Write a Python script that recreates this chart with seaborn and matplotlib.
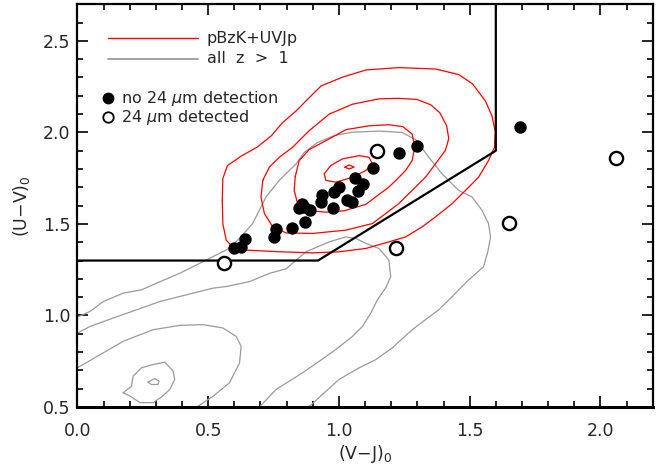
import matplotlib
matplotlib.use("Agg")
import matplotlib.pyplot as plt
from matplotlib.ticker import MultipleLocator
import seaborn as sns

# galaxies with no 24 micron detection
vj_no24 = [1.692, 1.299, 1.229, 1.130, 1.062, 1.092, 1.072, 1.001, 0.982, 0.937, 0.931,
           1.032, 1.051, 0.979, 0.859, 0.867, 0.848, 0.889, 0.871, 0.820, 0.760, 0.750,
           0.639, 0.626, 0.598]
uv_no24 = [2.027, 1.927, 1.888, 1.807, 1.749, 1.718, 1.682, 1.700, 1.676, 1.660, 1.618,
           1.633, 1.622, 1.585, 1.609, 1.594, 1.587, 1.576, 1.509, 1.478, 1.471, 1.427,
           1.418, 1.376, 1.367]

# 24 micron detected
vj_24 = [1.146, 1.219, 0.559, 1.651, 2.061]
uv_24 = [1.896, 1.369, 1.285, 1.505, 1.858]

# UVJ quiescent box
box_vj = [0.0, 0.92, 1.6, 1.6]
box_uv = [1.3, 1.3, 1.9, 2.8]

# pBzK+UVJp density contours (traced)
red1_vj = [0.554, 0.556, 0.574, 0.627, 0.688, 0.742, 0.784, 0.837, 0.886, 0.932, 1.016, 1.104,
           1.229, 1.370, 1.458, 1.511, 1.560, 1.585, 1.598, 1.595, 1.572, 1.534, 1.484, 1.433,
           1.369, 1.318, 1.255, 1.191, 1.103, 1.001, 0.899, 0.772, 0.645, 0.594, 0.569, 0.556, 0.554]
red1_uv = [1.629, 1.748, 1.819, 1.871, 1.920, 1.982, 2.053, 2.118, 2.189, 2.254, 2.303, 2.341,
           2.354, 2.346, 2.316, 2.265, 2.172, 2.091, 2.004, 1.919, 1.846, 1.755, 1.683, 1.611,
           1.538, 1.484, 1.429, 1.402, 1.366, 1.348, 1.342, 1.348, 1.357, 1.375, 1.411, 1.502, 1.629]
red2_vj = [0.709, 0.734, 0.772, 0.823, 0.886, 0.963, 1.052, 1.153, 1.229, 1.298, 1.351, 1.386,
           1.412, 1.420, 1.407, 1.369, 1.331, 1.280, 1.229, 1.179, 1.128, 1.026, 0.899, 0.798,
           0.747, 0.715, 0.702, 0.709]
red2_uv = [1.738, 1.810, 1.864, 1.919, 2.009, 2.100, 2.154, 2.183, 2.186, 2.180, 2.151, 2.107,
           2.036, 1.966, 1.901, 1.828, 1.755, 1.683, 1.611, 1.557, 1.502, 1.466, 1.448, 1.451,
           1.484, 1.557, 1.647, 1.738]
red3_vj = [0.833, 0.848, 0.886, 0.944, 1.027, 1.115, 1.191, 1.245, 1.280, 1.290, 1.280, 1.255,
           1.229, 1.191, 1.153, 1.103, 1.020, 0.950, 0.874, 0.842, 0.829, 0.833]
red3_uv = [1.759, 1.846, 1.906, 1.950, 2.015, 2.036, 2.042, 2.031, 1.991, 1.922, 1.846, 1.792,
           1.754, 1.701, 1.661, 1.607, 1.572, 1.564, 1.575, 1.611, 1.683, 1.759]
red4_vj = [0.944, 0.950, 0.988, 1.052, 1.103, 1.128, 1.115, 1.077, 1.013, 0.969, 0.944]
red4_uv = [1.774, 1.738, 1.728, 1.755, 1.792, 1.828, 1.864, 1.873, 1.855, 1.819, 1.774]
red5_vj = [1.023, 1.039, 1.058, 1.039, 1.023]
red5_uv = [1.810, 1.822, 1.811, 1.800, 1.810]

# all z > 1 density contours (traced)
gray1_vj = [0.0, 0.048, 0.099, 0.175, 0.245, 0.302, 0.391, 0.455, 0.505, 0.543, 0.582, 0.620,
            0.670, 0.696, 0.721, 0.772, 0.836, 0.867, 0.917, 0.982, 1.050, 1.153, 1.241, 1.294,
            1.344, 1.394, 1.458, 1.509, 1.547, 1.572, 1.580, 1.569, 1.553, 1.496, 1.433, 1.382,
            1.331, 1.280, 1.204, 1.141, 1.077, 1.001, 0.937, 0.886, 0.880]
gray1_uv = [0.991, 1.022, 1.076, 1.122, 1.140, 1.176, 1.230, 1.276, 1.312, 1.339, 1.368, 1.422,
            1.502, 1.575, 1.647, 1.738, 1.828, 1.890, 1.944, 1.982, 2.001, 2.007, 2.000, 1.960,
            1.864, 1.774, 1.683, 1.647, 1.575, 1.502, 1.428, 1.346, 1.266, 1.194, 1.103, 1.031,
            0.977, 0.922, 0.823, 0.759, 0.714, 0.651, 0.569, 0.502, 0.490]
gray2_vj = [0.0, 0.048, 0.137, 0.226, 0.315, 0.417, 0.518, 0.569, 0.658, 0.734, 0.798, 0.874,
            0.963, 1.026, 1.064, 1.103, 1.153, 1.191, 1.198, 1.179, 1.147, 1.122, 1.090, 1.052,
            0.988, 0.925, 0.861, 0.810, 0.760, 0.699, 0.693]
gray2_uv = [0.904, 0.940, 0.986, 1.031, 1.076, 1.113, 1.149, 1.158, 1.185, 1.230, 1.255, 1.348,
            1.402, 1.429, 1.421, 1.394, 1.366, 1.303, 1.212, 1.151, 1.085, 1.013, 0.940, 0.886,
            0.814, 0.750, 0.687, 0.641, 0.596, 0.505, 0.490]
gray3_vj = [0.0, 0.099, 0.175, 0.289, 0.391, 0.480, 0.556, 0.607, 0.626, 0.620, 0.582, 0.520,
            0.462, 0.455]
gray3_uv = [0.714, 0.796, 0.859, 0.922, 0.946, 0.950, 0.932, 0.886, 0.832, 0.741, 0.633, 0.560,
            0.505, 0.490]
gray4_vj = [0.175, 0.207, 0.213, 0.245, 0.289, 0.334, 0.366, 0.372, 0.353, 0.327, 0.289, 0.239,
            0.201, 0.175]
gray4_uv = [0.578, 0.614, 0.669, 0.714, 0.732, 0.745, 0.696, 0.651, 0.596, 0.560, 0.524, 0.524,
            0.560, 0.578]
gray5_vj = [0.270, 0.296, 0.312, 0.308, 0.283, 0.270]
gray5_uv = [0.636, 0.656, 0.641, 0.623, 0.623, 0.636]

red_paths = [(red1_vj, red1_uv), (red2_vj, red2_uv), (red3_vj, red3_uv),
             (red4_vj, red4_uv), (red5_vj, red5_uv)]
gray_paths = [(gray1_vj, gray1_uv), (gray2_vj, gray2_uv), (gray3_vj, gray3_uv),
              (gray4_vj, gray4_uv), (gray5_vj, gray5_uv)]

sns.set_style("ticks")
plt.rcParams['font.family'] = ['DejaVu Sans']
plt.rcParams['mathtext.fontset'] = 'dejavusans'

fig = plt.figure(figsize=(6.56, 4.70), dpi=100)
ax = fig.add_axes([0.118, 0.134, 0.877, 0.857])

for vj, uv in gray_paths:
    sns.lineplot(x=vj, y=uv, sort=False, estimator=None, color='#9a9a9a',
                 linewidth=0.9, ax=ax, zorder=1)
for vj, uv in red_paths:
    sns.lineplot(x=vj, y=uv, sort=False, estimator=None, color='red',
                 linewidth=0.9, ax=ax, zorder=2)

sns.lineplot(x=box_vj, y=box_uv, sort=False, estimator=None, color='black',
             linewidth=1.6, ax=ax, zorder=3)

sns.scatterplot(x=vj_no24, y=uv_no24, color='black', s=80, linewidth=0, ax=ax, zorder=4)
sns.scatterplot(x=vj_24, y=uv_24, facecolor='white', edgecolor='black', s=90,
                linewidth=1.7, ax=ax, zorder=4)

ax.set_xlim(0, 2.2)
ax.set_ylim(0.5, 2.7)
ax.xaxis.set_major_locator(MultipleLocator(0.5))
ax.xaxis.set_minor_locator(MultipleLocator(0.1))
ax.yaxis.set_major_locator(MultipleLocator(0.5))
ax.yaxis.set_minor_locator(MultipleLocator(0.1))
ax.tick_params(which='both', direction='in', top=True, right=True, width=1.2, color='black')
ax.tick_params(which='major', length=8, labelsize=12.5)
ax.tick_params(axis='x', which='major', pad=11)
ax.tick_params(axis='y', which='major', pad=5)
ax.tick_params(which='minor', length=4)
for side, sp in ax.spines.items():
    sp.set_linewidth(1.6)
    sp.set_color('black')
ax.spines['bottom'].set_linewidth(2.2)

ax.set_xlabel('(V\u2212J)$_0$', fontsize=12.5, labelpad=2)
ax.set_ylabel('(U\u2212V)$_0$', fontsize=12.5, labelpad=8)

# legend drawn by hand in axes coordinates
tr = ax.transAxes
ax.plot([0.054, 0.210], [0.915, 0.915], color='red', lw=1.0, transform=tr)
ax.plot([0.054, 0.210], [0.865, 0.865], color='#9a9a9a', lw=1.3, transform=tr)
ax.text(0.225, 0.915, 'pBzK+UVJp', fontsize=11.5, va='center', transform=tr)
ax.text(0.225, 0.865, 'all  z  >  1', fontsize=11.5, va='center', transform=tr)
ax.plot([0.054], [0.766], 'o', color='black', ms=7.5, transform=tr)
ax.plot([0.054], [0.719], 'o', mfc='white', mec='black', mew=1.3, ms=7.5, transform=tr)
ax.text(0.075, 0.766, 'no 24 $\\mu$m detection', fontsize=11.5, va='center', transform=tr)
ax.text(0.075, 0.719, '24 $\\mu$m detected', fontsize=11.5, va='center', transform=tr)

fig.savefig('out.png', dpi=100)
plt.close(fig)
